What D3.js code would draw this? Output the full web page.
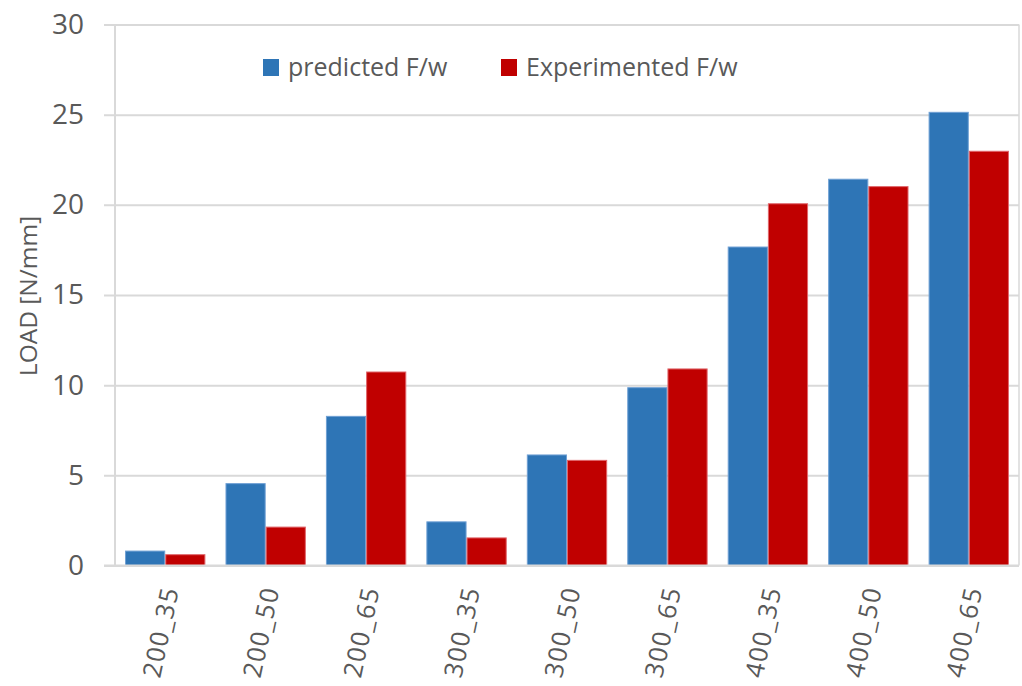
<!DOCTYPE html>
<html>
<head>
<meta charset="utf-8">
<script src="https://cdn.jsdelivr.net/npm/d3@7"></script>
<style>
  html, body { margin: 0; padding: 0; background: #fff; }
  svg { display: block; }
  text { font-family: "Open Sans", "Noto Sans", sans-serif; fill: #595959; }
</style>
</head>
<body>
<svg id="chart" width="1022" height="686"></svg>
<script>
// Specimen groups and loads per unit width
const categories = ["200_35", "200_50", "200_65", "300_35", "300_50", "300_65", "400_35", "400_50", "400_65"];
const seriesNames = ["predicted F/w", "Experimented F/w"];
const predicted = [0.8, 4.54, 8.27, 2.42, 6.13, 9.86, 17.66, 21.42, 25.13];
const experimented = [0.6, 2.13, 10.73, 1.53, 5.83, 10.9, 20.06, 21.01, 22.97];
const yTicks = [0, 5, 10, 15, 20, 25, 30];
const colors = ["#2E75B6", "#C00000"];
const strokes = ["#6fa0d4", "#e0666b"];

const svg = d3.select("#chart");
const plot = { left: 115, right: 1019, top: 24.5, bottom: 565.5 };

const x = d3.scaleBand().domain(categories).range([plot.left, plot.right])
  .paddingInner(0.2).paddingOuter(0.1);
const xs = d3.scaleBand().domain(seriesNames).range([0, x.bandwidth()]);
const y = d3.scaleLinear().domain([0, 30]).range([plot.bottom, plot.top]);

// Horizontal gridlines with short ticks left of the axis
const yAxis = d3.axisLeft(y).tickValues(yTicks)
  .tickSize(-(plot.right - plot.left)).tickPadding(31).tickSizeOuter(0);
const gy = svg.append("g").attr("transform", `translate(${plot.left},0)`).call(yAxis);
gy.select(".domain").remove();
gy.selectAll(".tick line").attr("stroke", "#d9d9d9").attr("stroke-width", 2)
  .attr("x1", -11);
gy.selectAll(".tick text").attr("font-size", 28).attr("fill", "#595959")
  .attr("font-family", "Open Sans");

// Plot frame: left axis and right border
svg.append("line").attr("x1", plot.left).attr("x2", plot.left)
  .attr("y1", plot.top).attr("y2", plot.bottom)
  .attr("stroke", "#d9d9d9").attr("stroke-width", 2);
svg.append("line").attr("x1", plot.right).attr("x2", plot.right)
  .attr("y1", plot.top).attr("y2", plot.bottom)
  .attr("stroke", "#d9d9d9").attr("stroke-width", 1.5);

// Bars
const rows = categories.map((c, i) => ({ cat: c, values: [predicted[i], experimented[i]] }));
const groups = svg.append("g").selectAll("g").data(rows).join("g")
  .attr("transform", d => `translate(${x(d.cat)},0)`);
groups.selectAll("rect")
  .data(d => d.values.map((v, k) => ({ name: seriesNames[k], v, k })))
  .join("rect")
  .attr("x", d => xs(d.name) + 0.5)
  .attr("width", xs.bandwidth() - 1)
  .attr("y", d => y(d.v))
  .attr("height", d => y(0) - y(d.v))
  .attr("fill", d => colors[d.k])
  .attr("stroke", d => strokes[d.k])
  .attr("stroke-width", 1);

// Baseline drawn over the bars
svg.append("line").attr("x1", plot.left - 11).attr("x2", plot.right)
  .attr("y1", y(0)).attr("y2", y(0))
  .attr("stroke", "#d9d9d9").attr("stroke-width", 2);

// Category labels, tilted
svg.append("g").selectAll("text").data(categories).join("text")
  .attr("transform", d => `translate(${x(d) + x.bandwidth() / 2 + 4},587) rotate(-78)`)
  .attr("text-anchor", "end")
  .attr("dominant-baseline", "central")
  .attr("font-size", 25.5)
  .attr("letter-spacing", 1.3)
  .text(d => d);

// Y axis title
svg.append("text")
  .attr("transform", "translate(37,296) rotate(-90)")
  .attr("text-anchor", "middle")
  .attr("font-size", 24.5)
  .text("LOAD [N/mm]");

// Legend
const legendX = [263, 501];
const legend = svg.append("g").selectAll("g").data(seriesNames).join("g")
  .attr("transform", (d, i) => `translate(${legendX[i]},59)`);
legend.append("rect").attr("width", 16).attr("height", 17)
  .attr("fill", (d, i) => colors[i]);
legend.append("text").attr("x", 25).attr("y", 17).attr("font-size", 25)
  .text(d => d);
</script>
</body>
</html>
